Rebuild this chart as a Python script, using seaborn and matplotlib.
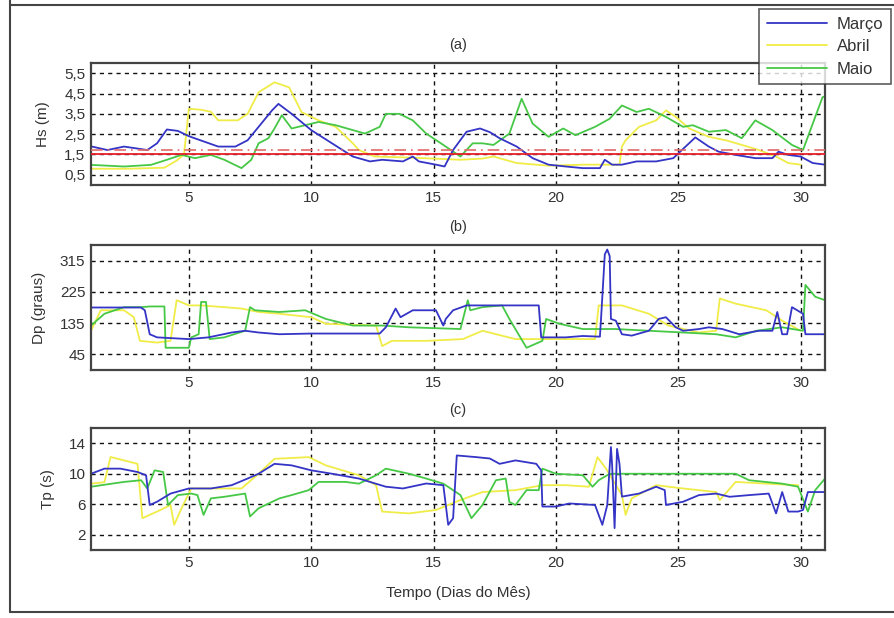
#!/usr/bin/env python3
"""
Hs, Dp e Tp por dia do mês (março, abril, maio).
"""

import matplotlib
matplotlib.use("Agg")
import matplotlib.pyplot as plt
import pandas as pd
import seaborn as sns
from matplotlib.lines import Line2D

MESES = ["Março", "Abril", "Maio"]
CORES = {"Março": "#3434c6", "Abril": "#f0ec48", "Maio": "#46c846"}

# (a) Hs (m)
HS_MARCO_DIA = [1.0, 1.67, 2.35, 3.3, 3.7, 4.1, 4.55, 5.0, 6.2, 6.9, 7.4, 7.85, 8.4, 8.66, 9.2, 10.0,
                10.85, 11.7, 12.4, 12.9, 13.75, 14.15, 14.4, 15.1, 15.45, 15.8, 16.35, 16.9, 17.3, 17.7,
                18.4, 19.05, 19.7, 20.4, 21.1, 21.8, 22.0, 22.3, 22.7, 23.3, 24.1, 24.8, 25.15, 25.7,
                26.25, 26.65, 27.35, 28.15, 28.85, 29.1, 29.5, 30.0, 30.5, 31.0]
HS_MARCO = [1.9, 1.72, 1.89, 1.72, 2.05, 2.73, 2.66, 2.4, 1.89, 1.89, 2.2, 2.86, 3.67, 3.99, 3.5, 2.7,
            2.05, 1.4, 1.16, 1.24, 1.16, 1.4, 1.16, 1.0, 0.91, 1.72, 2.62, 2.78, 2.6, 2.3,
            1.89, 1.32, 1.0, 0.91, 0.83, 0.83, 1.24, 1.0, 1.0, 1.16, 1.16, 1.32, 1.72, 2.34,
            1.89, 1.64, 1.48, 1.32, 1.32, 1.64, 1.48, 1.4, 1.08, 1.0]
HS_ABRIL_DIA = [1.0, 2.5, 4.0, 4.5, 4.8, 5.0, 5.5, 5.9, 6.2, 7.0, 7.4, 7.85, 8.5, 9.1, 9.6, 10.3, 11.0,
                11.7, 11.95, 12.6, 14.0, 15.0, 16.1, 17.0, 17.45, 18.4, 19.7, 21.1, 22.6, 22.7, 22.85,
                23.4, 24.1, 24.5, 24.9, 25.45, 26.25, 26.95, 27.6, 28.3, 29.0, 29.5, 30.0]
HS_ABRIL = [0.8, 0.8, 0.85, 1.2, 1.5, 3.75, 3.7, 3.6, 3.18, 3.18, 3.5, 4.56, 5.05, 4.8, 3.59, 3.18, 2.86,
            2.05, 1.72, 1.4, 1.35, 1.3, 1.24, 1.3, 1.4, 1.08, 0.95, 1.0, 1.0, 1.89, 2.2,
            2.86, 3.18, 3.67, 3.35, 2.78, 2.37, 2.2, 1.97, 1.72, 1.4, 1.08, 1.0]
HS_MAIO_DIA = [1.0, 2.35, 3.45, 4.1, 4.7, 5.25, 5.9, 6.45, 7.15, 7.55, 7.85, 8.25, 8.5, 8.8, 9.2, 9.75,
               10.3, 11.0, 11.7, 12.2, 12.8, 13.05, 13.6, 14.15, 14.7, 15.4, 16.1, 16.6, 17.0, 17.45,
               18.1, 18.6, 19.05, 19.7, 20.3, 20.8, 21.6, 22.2, 22.7, 23.3, 23.8, 24.5, 25.2, 25.6,
               26.25, 26.95, 27.6, 28.15, 28.85, 29.65, 30.1, 30.5, 30.9, 31.0]
HS_MAIO = [0.99, 0.91, 0.99, 1.24, 1.48, 1.32, 1.48, 1.24, 0.83, 1.24, 2.05, 2.3, 2.78, 3.43, 2.78, 2.94,
           3.1, 2.94, 2.7, 2.53, 2.86, 3.5, 3.5, 3.18, 2.53, 1.97, 1.4, 2.05, 2.05, 1.97,
           2.53, 4.24, 3.02, 2.37, 2.78, 2.45, 2.86, 3.26, 3.91, 3.59, 3.75, 3.35, 2.86, 2.94,
           2.62, 2.7, 2.3, 3.18, 2.7, 1.97, 1.72, 3.02, 4.32, 4.35]
HS_LIMIAR = 1.5
HS_LIMIAR_2 = 1.7

# (b) Dp (graus)
DP_MARCO_DIA = [1.0, 3.04, 3.2, 3.4, 3.7, 5.0, 5.8, 6.75, 7.3, 7.85, 8.7, 10.0, 12.8, 13.05, 13.45, 13.65,
                14.15, 15.1, 15.4, 15.5, 15.8, 16.35, 17.45, 19.3, 19.4, 20.4, 21.1, 21.8, 21.85, 22.0,
                22.1, 22.2, 22.25, 22.45, 22.7, 23.1, 23.8, 24.2, 24.5, 24.9, 25.2, 25.85, 26.25, 26.8,
                27.5, 28.3, 28.85, 29.05, 29.25, 29.45, 29.65, 30.1, 30.2, 31.0]
DP_MARCO = [180, 180, 172, 103, 94, 89, 94, 108, 113, 108, 103, 105, 105, 123, 177, 152,
            172, 172, 128, 147, 172, 186, 186, 186, 94, 94, 98, 96, 152, 333,
            347, 328, 147, 142, 103, 99, 113, 147, 152, 123, 113, 118, 123, 118,
            103, 113, 113, 167, 103, 103, 181, 162, 103, 103]
DP_ABRIL_DIA = [1.0, 1.4, 2.35, 2.75, 3.0, 3.7, 4.25, 4.5, 5.0, 5.5, 6.45, 7.15, 7.85, 8.7, 10.0, 10.6,
                12.65, 12.9, 13.3, 14.7, 16.2, 17.0, 18.35, 19.45, 21.6, 21.75, 22.7, 23.8, 24.6, 25.85,
                26.55, 26.7, 27.35, 28.6, 29.25, 30.0]
DP_ABRIL = [113, 172, 172, 152, 84, 79, 84, 201, 186, 186, 181, 177, 167, 162, 152, 133,
            128, 69, 84, 84, 89, 113, 89, 89, 89, 186, 186, 162, 128, 108,
            113, 206, 191, 172, 142, 113]
DP_MAIO_DIA = [1.0, 1.55, 2.35, 3.05, 3.4, 4.0, 4.05, 5.0, 5.1, 5.4, 5.5, 5.7, 5.85, 6.45, 7.3, 7.5,
               7.7, 8.7, 9.75, 10.6, 11.7, 12.9, 14.0, 16.1, 16.4, 16.5, 17.0, 17.8, 18.1, 18.8,
               19.45, 19.6, 20.15, 21.1, 22.45, 23.8, 25.2, 26.55, 27.35, 28.2, 29.25, 30.1, 30.2,
               30.6, 31.0]
DP_MAIO = [128, 162, 181, 181, 183, 183, 64, 64, 94, 103, 196, 196, 89, 94, 113, 181,
           172, 167, 172, 147, 128, 128, 123, 118, 201, 172, 181, 186, 147, 64,
           84, 147, 133, 118, 118, 113, 108, 103, 94, 113, 123, 113, 245,
           211, 201]

# (c) Tp (s)
TP_MARCO_DIA = [1.0, 1.55, 2.2, 2.9, 3.25, 3.4, 3.7, 4.25, 5.0, 5.9, 6.75, 7.4, 7.85, 8.5, 9.2, 10.0,
                10.85, 11.95, 13.05, 13.75, 14.7, 15.4, 15.5, 15.6, 15.8, 15.95, 16.75, 17.3, 17.7,
                18.35, 19.2, 19.4, 19.45, 20.0, 20.55, 21.6, 21.9, 22.1, 22.25, 22.3, 22.4, 22.5,
                22.6, 22.7, 23.4, 24.1, 24.45, 24.5, 25.2, 25.85, 26.55, 27.1, 27.9, 28.7, 29.0,
                29.25, 29.5, 29.9, 30.1, 30.3, 31.0]
TP_MARCO = [10.0, 10.67, 10.67, 10.23, 9.8, 5.9, 6.33, 7.4, 8.07, 8.07, 8.5, 9.37, 10.0, 11.3, 11.1, 10.45,
            10.0, 9.37, 8.3, 8.07, 8.72, 8.5, 5.9, 3.3, 4.17, 12.4, 12.18, 12.0, 11.3,
            11.75, 11.3, 10.45, 5.7, 5.7, 6.1, 5.9, 3.3, 5.9, 13.5, 11.1, 2.87, 13.26,
            11.3, 7.0, 7.4, 8.3, 7.85, 5.9, 6.33, 7.2, 7.4, 6.98, 7.2, 7.4, 4.8,
            7.6, 5.04, 5.04, 5.25, 7.6, 7.6]
TP_ABRIL_DIA = [1.0, 1.55, 1.8, 2.35, 2.9, 3.1, 3.7, 4.25, 4.4, 4.7, 5.1, 5.9, 7.15, 7.85, 8.5, 9.9,
                10.6, 11.95, 12.65, 12.9, 14.0, 15.1, 16.1, 17.0, 18.35, 19.45, 20.4, 21.35, 21.7,
                22.05, 22.7, 22.85, 23.1, 24.1, 25.2, 26.55, 26.7, 27.35, 28.6, 29.9]
TP_ABRIL = [8.7, 8.9, 12.2, 11.75, 11.3, 4.17, 5.04, 5.9, 3.3, 5.47, 8.07, 8.07, 8.07, 10.0, 11.96, 12.18,
            11.1, 9.8, 8.5, 5.04, 4.8, 5.25, 6.55, 7.6, 7.85, 8.5, 8.5, 8.3, 12.18,
            10.67, 7.2, 4.6, 6.77, 8.5, 8.07, 7.6, 6.55, 8.93, 8.7, 8.5]
TP_MAIO_DIA = [1.0, 2.35, 3.05, 3.3, 3.6, 3.95, 4.15, 4.55, 5.1, 5.35, 5.6, 5.9, 6.45, 7.3, 7.5, 7.85,
               8.7, 9.2, 9.9, 10.3, 11.4, 11.95, 12.65, 13.05, 14.0, 14.7, 15.4, 16.1, 16.55, 17.0,
               17.55, 17.95, 18.1, 18.35, 18.8, 19.3, 19.45, 20.0, 21.1, 21.5, 21.75, 22.2, 25.2,
               27.35, 27.9, 29.25, 29.9, 30.3, 30.6, 31.0]
TP_MAIO = [8.3, 8.93, 9.15, 8.07, 10.45, 10.23, 5.9, 7.2, 7.4, 7.2, 4.6, 6.77, 6.98, 7.4, 4.4, 5.47,
           6.77, 7.2, 7.85, 8.93, 8.93, 8.7, 9.8, 10.67, 10.0, 9.37, 8.7, 7.2, 4.17, 5.9,
           9.15, 9.37, 6.3, 5.9, 7.85, 7.85, 10.67, 10.0, 9.8, 8.3, 9.15, 10.0, 10.0,
           10.0, 9.15, 8.7, 8.3, 5.04, 7.85, 9.37]

W, H = 894, 618
COR_TEXTO = "#333333"


def fx(px):
    return px / W


def fy(py):
    return 1 - py / H


def montar(series):
    partes = []
    for mes, dias, vals in series:
        partes.append(pd.DataFrame({"dia": dias, "valor": vals, "mes": mes}))
    return pd.concat(partes, ignore_index=True)


def estilo_eixo(ax, ylim, yticks, ylabels, ylabel, titulo):
    ax.set_xlim(1, 31)
    ax.set_ylim(*ylim)
    ax.set_xticks([5, 10, 15, 20, 25, 30])
    ax.set_yticks(yticks)
    ax.set_yticklabels(ylabels)
    ax.grid(True, color="#111111", linestyle=(0, (3, 3)), linewidth=1.0)
    ax.tick_params(axis="both", direction="in", length=3, labelsize=11, colors=COR_TEXTO,
                   labelcolor=COR_TEXTO, pad=4)
    for s in ax.spines.values():
        s.set_color("#444444")
        s.set_linewidth(1.6)
    ax.set_ylabel(ylabel, fontsize=11, color=COR_TEXTO, labelpad=10)
    ax.set_xlabel("")
    ax.set_title(titulo, fontsize=10.5, color=COR_TEXTO, pad=10)


def main():
    sns.set_style("white")
    plt.rcParams["font.family"] = ["Liberation Sans", "DejaVu Sans"]

    fig = plt.figure(figsize=(W / 100, H / 100), dpi=100)
    fig.patch.set_facecolor("white")

    left, right = fx(91), fx(825)
    caixas = [(63, 185), (245, 370), (428, 550)]
    axes = [fig.add_axes([left, fy(b), right - left, fy(t) - fy(b)]) for t, b in caixas]

    paineis = [
        (montar([("Março", HS_MARCO_DIA, HS_MARCO), ("Abril", HS_ABRIL_DIA, HS_ABRIL),
                 ("Maio", HS_MAIO_DIA, HS_MAIO)]),
         (0, 6), [0.5, 1.5, 2.5, 3.5, 4.5, 5.5], ["0,5", "1,5", "2,5", "3,5", "4,5", "5,5"],
         "Hs (m)", "(a)"),
        (montar([("Março", DP_MARCO_DIA, DP_MARCO), ("Abril", DP_ABRIL_DIA, DP_ABRIL),
                 ("Maio", DP_MAIO_DIA, DP_MAIO)]),
         (0, 360), [45, 135, 225, 315], ["45", "135", "225", "315"], "Dp (graus)", "(b)"),
        (montar([("Março", TP_MARCO_DIA, TP_MARCO), ("Abril", TP_ABRIL_DIA, TP_ABRIL),
                 ("Maio", TP_MAIO_DIA, TP_MAIO)]),
         (0, 16), [2, 6, 10, 14], ["2", "6", "10", "14"], "Tp (s)", "(c)"),
    ]

    # ordem de desenho: abril por baixo, depois maio, março por cima
    ordem = ["Abril", "Maio", "Março"]
    for ax, (df, ylim, yt, yl, ylab, tit) in zip(axes, paineis):
        for mes in ordem:
            sub = df[df["mes"] == mes]
            sns.lineplot(data=sub, x="dia", y="valor", color=CORES[mes], linewidth=1.3,
                         estimator=None, sort=False, ax=ax, legend=False)
        estilo_eixo(ax, ylim, yt, yl, ylab, tit)

    axes[0].axhline(HS_LIMIAR, color="#e8202a", linewidth=1.3, zorder=3)
    axes[0].axhline(HS_LIMIAR_2, color="#e06a6a", linewidth=1.2, linestyle=(0, (7, 3, 1, 3)), zorder=3)
    axes[2].set_xlabel("Tempo (Dias do Mês)", fontsize=11, color=COR_TEXTO, labelpad=12)

    handles = [Line2D([], [], color=CORES[m], linewidth=1.3) for m in MESES]
    leg = fig.legend(handles, MESES, loc="upper right", bbox_to_anchor=(fx(891), fy(9)),
                     frameon=True, fancybox=False, fontsize=12, handlelength=3.6,
                     borderpad=0.45, labelspacing=0.45, handletextpad=0.6, borderaxespad=0)
    leg.get_frame().set_edgecolor("#333333")
    leg.get_frame().set_linewidth(1.2)
    for t in leg.get_texts():
        t.set_color(COR_TEXTO)

    # moldura da figura
    fig.add_artist(Line2D([fx(10), fx(10)], [fy(0), fy(612)], color="#444444", linewidth=1.5))
    fig.add_artist(Line2D([fx(10), fx(894)], [fy(5), fy(5)], color="#444444", linewidth=1.5))
    fig.add_artist(Line2D([fx(10), fx(894)], [fy(612), fy(612)], color="#444444", linewidth=1.5))

    fig.savefig("out.png", dpi=100)


if __name__ == "__main__":
    main()
